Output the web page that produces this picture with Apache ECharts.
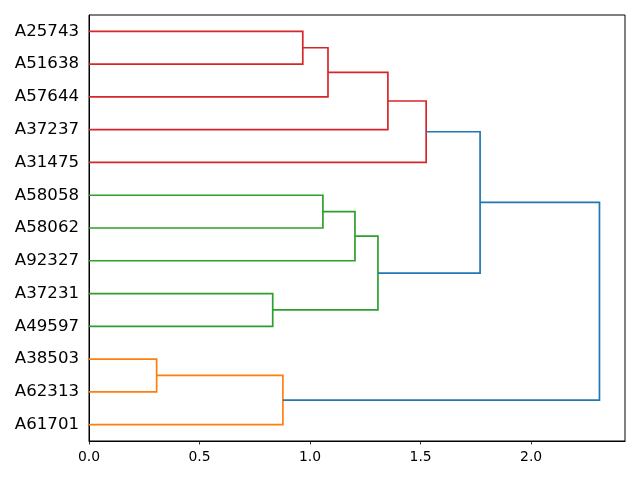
<!DOCTYPE html>
<html>
<head>
<meta charset="utf-8">
<script src="https://cdn.jsdelivr.net/npm/echarts@6/dist/echarts.min.js"></script>
<style>html,body{margin:0;padding:0;background:#fff}#c{width:640px;height:480px}</style>
</head>
<body>
<div id="c"></div>
<script>
// Leaves from top to bottom
var leaves = ['A25743','A51638','A57644','A37237','A31475','A58058','A58062','A92327','A37231','A49597','A38503','A62313','A61701'];
// Merges: [left child, right child, merge distance, colour key]; nodes are leaf names or merge ids 'm0','m1',...
var mergeLeft   = ['A25743','m0','m1','m2','A58058','m4','A37231','m5','m3','A38503','m9','m8'];
var mergeRight  = ['A51638','A57644','A37237','A31475','A58062','A92327','A49597','m6','m7','A62313','A61701','m10'];
var mergeHeight = [0.967, 1.081, 1.352, 1.525, 1.058, 1.203, 0.831, 1.307, 1.769, 0.306, 0.877, 2.309];
var mergeColor  = ['red','red','red','red','green','green','green','green','blue','orange','orange','blue'];
var xTicks = [0, 0.5, 1.0, 1.5, 2.0];

var palette = {red:'#d62728', green:'#2ca02c', orange:'#ff7f0e', blue:'#1f77b4'};
var n = leaves.length;
// category axis: first category at bottom, so reverse
var cats = leaves.slice().reverse();
var pos = {}, hgt = {};
leaves.forEach(function(l, i){ pos[l] = (n - 1 - i); hgt[l] = 0; });
var links = [];
for (var k = 0; k < mergeLeft.length; k++) {
  var a = mergeLeft[k], b = mergeRight[k], h = mergeHeight[k];
  links.push({
    coords: [[hgt[a], pos[a]], [h, pos[a]], [h, pos[b]], [hgt[b], pos[b]]],
    lineStyle: {color: palette[mergeColor[k]]}
  });
  pos['m' + k] = (pos[a] + pos[b]) / 2;
  hgt['m' + k] = h;
}
var xmax = Math.max.apply(null, mergeHeight) * 1.05;

var chart = echarts.init(document.getElementById('c'), null, {renderer: 'canvas'});
chart.setOption({
  animation: false,
  backgroundColor: '#fff',
  grid: {left: 89, right: 15, top: 15, bottom: 39, show: true, borderColor: '#000', borderWidth: 1},
  xAxis: {
    type: 'value', min: 0, max: xmax, interval: 0.5,
    axisLine: {show: true, onZero: false, lineStyle: {color: '#000', width: 1}},
    axisTick: {show: true, length: 3.5, lineStyle: {color: '#000', width: 0.8}},
    splitLine: {show: false},
    axisLabel: {color: '#000', fontFamily: 'DejaVu Sans', fontSize: 13.9, margin: 9,
      showMaxLabel: false,
      formatter: function(v){ return xTicks.indexOf(+v.toFixed(2)) >= 0 ? v.toFixed(1) : ''; }}
  },
  yAxis: [{
    type: 'category', data: cats, boundaryGap: true,
    axisLine: {show: true, onZero: false, lineStyle: {color: '#000', width: 1}},
    axisTick: {show: false},
    splitLine: {show: false},
    axisLabel: {color: '#000', fontFamily: 'DejaVu Sans', fontSize: 16.6, margin: 10}
  }, {
    type: 'value', min: -0.5, max: n - 0.5, show: false,
    axisLine: {show: false}, splitLine: {show: false}
  }],
  series: [{
    type: 'lines',
    coordinateSystem: 'cartesian2d',
    yAxisIndex: 1,
    polyline: true,
    silent: true,
    lineStyle: {width: 1.7, opacity: 1},
    data: links
  }]
});
</script>
</body>
</html>
